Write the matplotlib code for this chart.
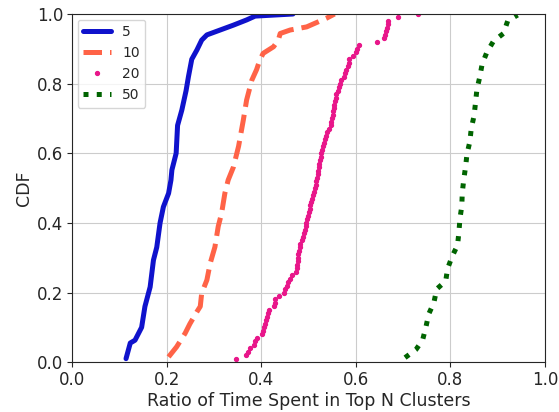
import matplotlib
matplotlib.use("Agg")
import matplotlib.pyplot as plt
import numpy as np
import seaborn as sns

# top 5 clusters (solid line, read as knot points)
top5_x = [0.114, 0.123, 0.133, 0.147, 0.154, 0.165, 0.172, 0.179, 0.186, 0.193,
          0.204, 0.209, 0.211, 0.220, 0.223, 0.232, 0.241, 0.246, 0.253, 0.264,
          0.274, 0.285, 0.313, 0.341, 0.369, 0.387, 0.467]
top5_y = [0.010, 0.055, 0.063, 0.100, 0.160, 0.216, 0.293, 0.330, 0.400, 0.446,
          0.485, 0.523, 0.552, 0.600, 0.680, 0.724, 0.780, 0.820, 0.870, 0.897,
          0.925, 0.940, 0.954, 0.968, 0.983, 0.994, 1.000]

# top 10 clusters
top10_x = [0.204, 0.221, 0.239, 0.249, 0.264, 0.271, 0.274, 0.285, 0.292, 0.302,
           0.309, 0.316, 0.323, 0.330, 0.341, 0.352, 0.362, 0.369, 0.380, 0.390,
           0.397, 0.404, 0.426, 0.436, 0.440, 0.461, 0.496, 0.538, 0.555]
top10_y = [0.015, 0.044, 0.083, 0.110, 0.145, 0.160, 0.198, 0.236, 0.284, 0.331,
           0.390, 0.427, 0.485, 0.523, 0.560, 0.620, 0.695, 0.753, 0.810, 0.840,
           0.868, 0.887, 0.906, 0.925, 0.944, 0.954, 0.963, 0.988, 1.000]

# top 20 clusters (individual samples, sorted)
top20_x = [0.347, 0.368, 0.371, 0.376, 0.385, 0.386, 0.392, 0.402, 0.404, 0.406,
           0.408, 0.410, 0.412, 0.414, 0.417, 0.426, 0.429, 0.430, 0.438, 0.448,
           0.450, 0.454, 0.457, 0.460, 0.464, 0.473, 0.475, 0.476, 0.477, 0.477,
           0.478, 0.479, 0.481, 0.482, 0.486, 0.489, 0.491, 0.493, 0.494, 0.495,
           0.496, 0.498, 0.500, 0.502, 0.504, 0.506, 0.508, 0.510, 0.512, 0.513,
           0.515, 0.516, 0.518, 0.519, 0.520, 0.522, 0.523, 0.524, 0.526, 0.527,
           0.529, 0.530, 0.532, 0.534, 0.537, 0.540, 0.544, 0.547, 0.548, 0.550,
           0.551, 0.552, 0.553, 0.554, 0.555, 0.557, 0.558, 0.562, 0.565, 0.567,
           0.569, 0.575, 0.577, 0.579, 0.583, 0.585, 0.586, 0.595, 0.600, 0.603,
           0.607, 0.644, 0.660, 0.661, 0.663, 0.665, 0.667, 0.668, 0.690, 0.732]
top20_y = np.arange(1, len(top20_x) + 1) / len(top20_x)

# top 50 clusters
top50_x = [0.704, 0.727, 0.741, 0.748, 0.754, 0.765, 0.771, 0.790, 0.794, 0.804,
           0.815, 0.818, 0.820, 0.824, 0.825, 0.828, 0.832, 0.835, 0.841, 0.844,
           0.850, 0.853, 0.856, 0.862, 0.867, 0.877, 0.891, 0.912, 0.921, 0.942]
top50_y = [0.013, 0.036, 0.063, 0.100, 0.138, 0.171, 0.210, 0.233, 0.269, 0.305,
           0.336, 0.374, 0.412, 0.448, 0.486, 0.523, 0.561, 0.598, 0.633, 0.671,
           0.708, 0.745, 0.784, 0.819, 0.856, 0.890, 0.922, 0.944, 0.980, 0.997]

sns.set_style("ticks")
plt.rcParams['font.family'] = ['DejaVu Sans']

fig = plt.figure(figsize=(5.59, 4.12), dpi=100)
ax = fig.add_axes((0.129, 0.121, 0.846, 0.845))

ax.plot(top5_x, top5_y, color="#0f12cc", lw=3.6, label="5")
ax.plot(top10_x, top10_y, color="#ff6347", lw=3.6, ls="--", label="10")
ax.plot(top20_x, top20_y, color="#e8168a", ls="none", marker="o", ms=2.8, label="20")
ax.plot(top50_x, top50_y, color="#006400", lw=3.6, ls=":", label="50")

ax.set_xlim([0, 1])
ax.set_ylim([0, 1])
ax.set_xticks([0, 0.2, 0.4, 0.6, 0.8, 1.0])
ax.set_yticks([0, 0.2, 0.4, 0.6, 0.8, 1.0])
ax.tick_params(labelsize=12, length=3.5, pad=3, color=".15")
ax.grid(color=".8")
ax.set_axisbelow(True)

ax.set_xlabel("Ratio of Time Spent in Top N Clusters", fontsize=12.5, labelpad=2)
ax.set_ylabel("CDF", fontsize=12.5, labelpad=3)
ax.legend(loc="upper left", fontsize=10, borderaxespad=0.4)

fig.savefig("out.png", dpi=100)
